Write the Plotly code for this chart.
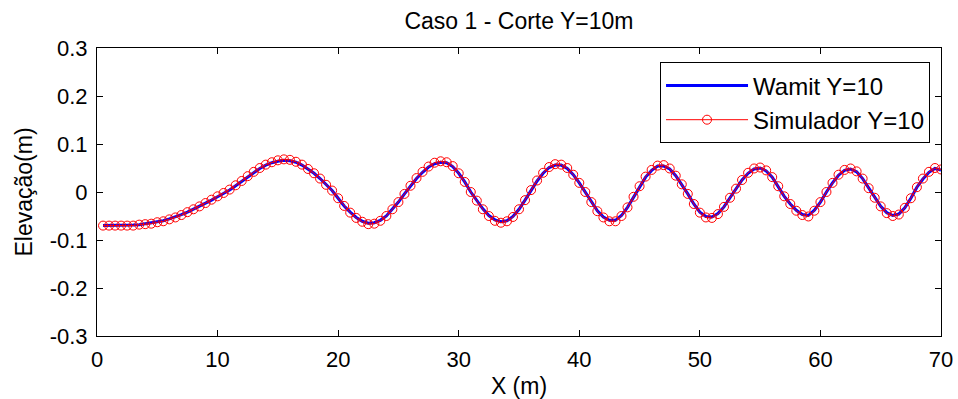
import plotly.graph_objects as go

x_vals = [0.5, 1.0, 1.5, 2.0, 2.5, 3.0, 3.5, 4.0, 4.5, 5.0, 5.5, 6.0, 6.5, 7.0, 7.5, 8.0, 8.5, 9.0, 9.5, 10.0,
          10.5, 11.0, 11.5, 12.0, 12.5, 13.0, 13.5, 14.0, 14.5, 15.0, 15.5, 16.0, 16.5, 17.0, 17.5, 18.0, 18.5, 19.0, 19.5, 20.0,
          20.5, 21.0, 21.5, 22.0, 22.5, 23.0, 23.5, 24.0, 24.5, 25.0, 25.5, 26.0, 26.5, 27.0, 27.5, 28.0, 28.5, 29.0, 29.5, 30.0,
          30.5, 31.0, 31.5, 32.0, 32.5, 33.0, 33.5, 34.0, 34.5, 35.0, 35.5, 36.0, 36.5, 37.0, 37.5, 38.0, 38.5, 39.0, 39.5, 40.0,
          40.5, 41.0, 41.5, 42.0, 42.5, 43.0, 43.5, 44.0, 44.5, 45.0, 45.5, 46.0, 46.5, 47.0, 47.5, 48.0, 48.5, 49.0, 49.5, 50.0,
          50.5, 51.0, 51.5, 52.0, 52.5, 53.0, 53.5, 54.0, 54.5, 55.0, 55.5, 56.0, 56.5, 57.0, 57.5, 58.0, 58.5, 59.0, 59.5, 60.0,
          60.5, 61.0, 61.5, 62.0, 62.5, 63.0, 63.5, 64.0, 64.5, 65.0, 65.5, 66.0, 66.5, 67.0, 67.5, 68.0, 68.5, 69.0, 69.5, 70.0]

wamit_y = [-0.070, -0.070, -0.070, -0.070, -0.069, -0.069, -0.068, -0.066, -0.065, -0.062,
           -0.060, -0.056, -0.052, -0.047, -0.042, -0.036, -0.030, -0.023, -0.017, -0.010,
           -0.003, 0.004, 0.013, 0.022, 0.032, 0.041, 0.049, 0.056, 0.061, 0.064,
           0.066, 0.065, 0.062, 0.056, 0.048, 0.039, 0.028, 0.015, 0.003, -0.013,
           -0.029, -0.042, -0.053, -0.061, -0.065, -0.064, -0.059, -0.050, -0.036, -0.021,
           -0.004, 0.013, 0.028, 0.041, 0.052, 0.059, 0.062, 0.061, 0.053, 0.039,
           0.021, 0.000, -0.018, -0.035, -0.049, -0.058, -0.062, -0.060, -0.051, -0.036,
           -0.017, 0.004, 0.023, 0.039, 0.051, 0.056, 0.056, 0.049, 0.036, 0.019,
           0.000, -0.021, -0.039, -0.052, -0.059, -0.059, -0.049, -0.032, -0.010, 0.012,
           0.031, 0.045, 0.054, 0.054, 0.048, 0.034, 0.016, -0.004, -0.025, -0.042,
           -0.051, -0.052, -0.045, -0.031, -0.012, 0.007, 0.025, 0.039, 0.048, 0.050,
           0.044, 0.031, 0.012, -0.009, -0.025, -0.038, -0.047, -0.049, -0.038, -0.021,
           0.000, 0.019, 0.035, 0.045, 0.048, 0.042, 0.028, 0.008, -0.012, -0.030,
           -0.043, -0.049, -0.046, -0.033, -0.013, 0.010, 0.027, 0.041, 0.049, 0.046]

sim_y = [-0.070, -0.070, -0.070, -0.070, -0.070, -0.070, -0.068, -0.067, -0.066, -0.063,
         -0.061, -0.057, -0.053, -0.048, -0.042, -0.036, -0.030, -0.023, -0.016, -0.009,
         -0.002, 0.005, 0.014, 0.023, 0.033, 0.042, 0.050, 0.057, 0.062, 0.066,
         0.068, 0.067, 0.063, 0.057, 0.048, 0.039, 0.028, 0.015, 0.003, -0.013,
         -0.029, -0.043, -0.054, -0.062, -0.067, -0.066, -0.060, -0.050, -0.036, -0.021,
         -0.004, 0.013, 0.029, 0.042, 0.053, 0.061, 0.064, 0.062, 0.054, 0.039,
         0.021, 0.000, -0.018, -0.036, -0.050, -0.060, -0.064, -0.061, -0.052, -0.036,
         -0.017, 0.004, 0.024, 0.040, 0.052, 0.058, 0.057, 0.050, 0.036, 0.019,
         0.000, -0.021, -0.040, -0.053, -0.061, -0.061, -0.050, -0.032, -0.010, 0.012,
         0.032, 0.046, 0.055, 0.056, 0.049, 0.034, 0.016, -0.004, -0.025, -0.043,
         -0.053, -0.054, -0.046, -0.031, -0.012, 0.007, 0.025, 0.040, 0.049, 0.051,
         0.045, 0.031, 0.012, -0.009, -0.025, -0.039, -0.048, -0.051, -0.039, -0.021,
         0.000, 0.019, 0.036, 0.046, 0.049, 0.043, 0.028, 0.008, -0.012, -0.030,
         -0.044, -0.050, -0.047, -0.033, -0.013, 0.010, 0.028, 0.042, 0.050, 0.047]

x_ticks = [0, 10, 20, 30, 40, 50, 60, 70]
y_ticks = [-0.3, -0.2, -0.1, 0, 0.1, 0.2, 0.3]
y_tick_text = ["-0.3", "-0.2", "-0.1", "0", "0.1", "0.2", "0.3"]

FONT = "Liberation Sans, Arial, Helvetica, sans-serif"

fig = go.Figure()
fig.add_trace(go.Scatter(x=x_vals, y=wamit_y, mode="lines", name="Wamit Y=10",
                         line=dict(color="#0000FF", width=3)))
fig.add_trace(go.Scatter(x=x_vals, y=sim_y, mode="lines+markers", name="Simulador Y=10",
                         line=dict(color="#FF0000", width=1),
                         marker=dict(symbol="circle-open", size=9, color="#FF0000",
                                     line=dict(width=1, color="#FF0000"))))

axis_common = dict(showgrid=False, zeroline=False, showline=True, linecolor="black", linewidth=1,
                   mirror="ticks", ticks="inside", ticklen=6, tickcolor="black", automargin=False,
                   tickfont=dict(family=FONT, size=22, color="black"))

fig.update_layout(
    width=958, height=399,
    margin=dict(l=97, r=17, t=48, b=63, autoexpand=False),
    paper_bgcolor="white", plot_bgcolor="white",
    font=dict(family=FONT, color="black"),
    title=dict(text="Caso 1 - Corte Y=10m", x=0.5, xref="paper", xanchor="center",
               y=0.947, yref="container", yanchor="middle",
               font=dict(family=FONT, size=23, color="black")),
    xaxis=dict(range=[0, 70], tickvals=x_ticks, ticklabelstandoff=4,
               title=dict(text="X (m)", standoff=8, font=dict(family=FONT, size=23, color="black")),
               **axis_common),
    yaxis=dict(range=[-0.3, 0.3], tickvals=y_ticks, ticktext=y_tick_text, ticklabelstandoff=4,
               title=dict(text="Elevação(m)", standoff=10, font=dict(family=FONT, size=23, color="black")),
               **axis_common),
    legend=dict(x=0.987, y=0.95, xanchor="right", yanchor="top",
                bgcolor="white", bordercolor="black", borderwidth=1,
                itemwidth=82, font=dict(family=FONT, size=24, color="black")),
    showlegend=True,
)

fig.write_html("out.html")
